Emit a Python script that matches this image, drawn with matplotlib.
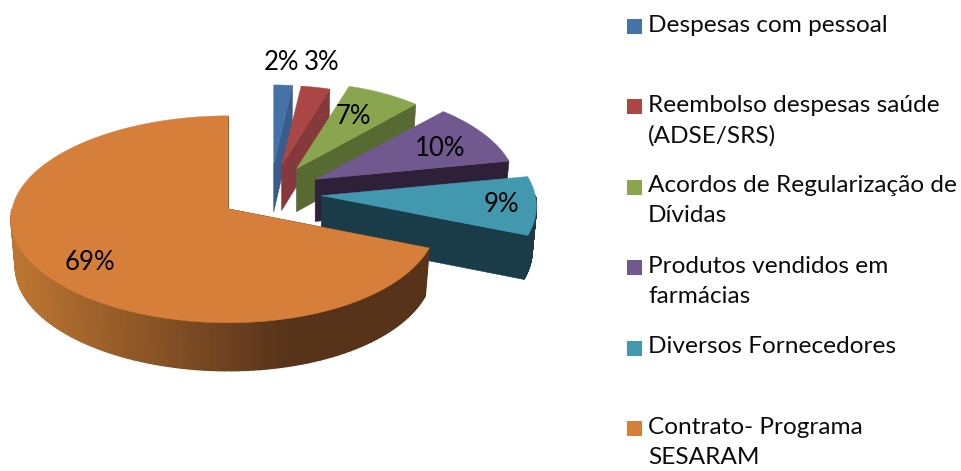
import numpy as np
import matplotlib
matplotlib.use('Agg')
import matplotlib.pyplot as plt
from matplotlib.colors import to_rgb
from matplotlib.patches import Polygon, Rectangle

plt.rcParams['font.family'] = ['Lato', 'DejaVu Sans']

labels = ['Despesas com pessoal', 'Reembolso despesas saúde\n(ADSE/SRS)',
          'Acordos de Regularização de\nDívidas', 'Produtos vendidos em\nfarmácias',
          'Diversos Fornecedores', 'Contrato- Programa\nSESARAM']
values = [2, 3, 7, 10, 9, 69]

top_colors = ['#4572a7', '#aa4643', '#89a54e', '#71588f', '#4198af', '#d57f3a']
wall_colors = ['#385d8a', '#86393a', '#576a31', '#2e2039', '#1a3c49', '#57331a']
wall_light = '#bd7632'

# look of the fake 3d pie, all in pixels
cx, cy = 270.5, 193
ex, ey = 51, 28.2
persp = 0.101
rx = [165, 171, 187, 201, 214, 212]
ry = [88, 88, 95, 100, 104, 102.4]
skew = [0, 0, 0, 0, 0, 0.02]
depth = [47, 45, 43, 42, 44, 48]
bottom_scale = 0.98
label_pos = [(282, 62), (322, 63), (353, 116), (440, 148), (501, 204), (90, 262)]

fig = plt.figure(figsize=(9.62, 4.71), dpi=100)
ax = fig.add_axes([0, 0, 1, 1])
ax.set_xlim(0, 962)
ax.set_ylim(471, 0)
ax.axis('off')


def project(tip, a, xr, yr, sk=0.0, scale=1.0):
    # a is clockwise from the top, in degrees
    t = np.radians(a)
    s = np.cos(t)
    c = np.sin(t)
    d = 1 + persp * s
    return tip[0] + scale * xr * (1 - sk * c) * c / d, tip[1] - yr * s / d


total = sum(values)
edges = np.cumsum([0] + values) / total * 360

for i in range(len(values)):
    a0, a1 = edges[i], edges[i + 1]
    mid = np.radians((a0 + a1) / 2)
    tip = (cx + ex * np.sin(mid), cy - ey * np.cos(mid))
    low = (tip[0], tip[1] + depth[i])
    xr, yr, sk = rx[i], ry[i], skew[i]

    # flat side at the clockwise end
    p0 = project(tip, a1, xr, yr, sk)
    p1 = project(low, a1, xr, yr, sk, bottom_scale)
    ax.add_patch(Polygon([tip, p0, p1, low], fc=wall_colors[i], ec=wall_colors[i], lw=0.4))
    # same at the start, only the last slice shows it from behind
    if i == len(values) - 1:
        p0 = project(tip, a0, xr, yr, sk)
        p1 = project(low, a0, xr, yr, sk, bottom_scale)
        ax.add_patch(Polygon([tip, p0, p1, low], fc=wall_colors[i], ec=wall_colors[i], lw=0.4))

    # round outer wall, front part only
    front0, front1 = max(a0, 90), min(a1, 270)
    if front1 > front0:
        angs = np.linspace(front0, front1, 90)
        for j in range(len(angs) - 1):
            x0, y0 = project(tip, angs[j], xr, yr, sk)
            x1, y1 = project(tip, angs[j + 1], xr, yr, sk)
            x2, y2 = project(low, angs[j + 1], xr, yr, sk, bottom_scale)
            x3, y3 = project(low, angs[j], xr, yr, sk, bottom_scale)
            col = wall_colors[i]
            if i == len(values) - 1:
                # light on the left, dark from the middle to the right
                f = np.clip((x0 - 15) / 275, 0, 1)
                col = tuple((1 - f) * np.array(to_rgb(wall_light)) + f * np.array(to_rgb(wall_colors[i])))
            ax.add_patch(Polygon([(x0, y0), (x1, y1), (x2, y2), (x3, y3)], fc=col, ec=col, lw=1.0))

    # top face
    angs = np.linspace(a0, a1, 200)
    xs, ys = project(tip, angs, xr, yr, sk)
    pts = [tip] + list(zip(xs, ys))
    ax.add_patch(Polygon(pts, fc=top_colors[i], ec=top_colors[i], lw=0.3))

for v, (lx, ly) in zip(values, label_pos):
    ax.text(lx, ly, f'{v}%', fontsize=18.5, color='black', ha='center', va='center')

# legend
for i, lab in enumerate(labels):
    y = 26.5 + 80.4 * i
    ax.add_patch(Rectangle((627, y - 7.5), 15, 15, fc=top_colors[i], ec='none'))
    ax.text(648, y - 12, lab, fontsize=17.6, color='#0c0c0c', ha='left', va='top', linespacing=1.53)

fig.savefig('out.png', dpi=100, facecolor='white')
